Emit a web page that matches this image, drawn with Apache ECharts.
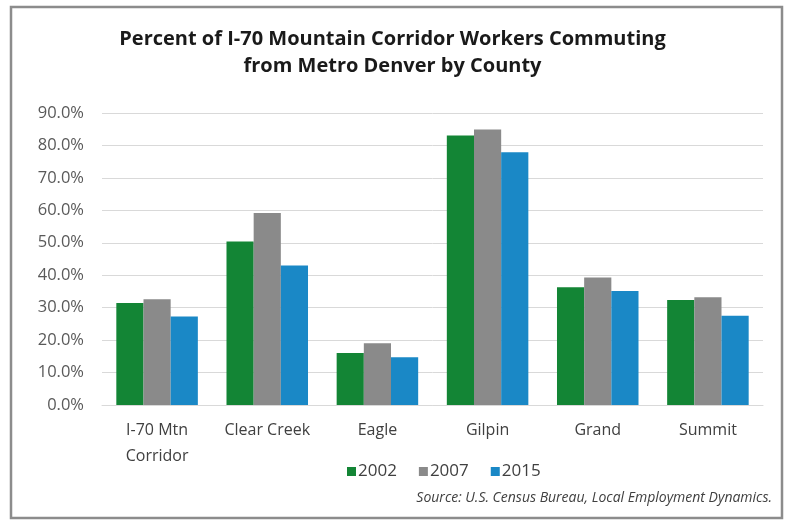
<!DOCTYPE html>
<html>
<head>
<meta charset="utf-8">
<script src="https://cdn.jsdelivr.net/npm/echarts@6/dist/echarts.min.js"></script>
<style>
  html, body { margin: 0; padding: 0; background: #fff; }
  #chart { width: 785px; height: 523px; }
</style>
</head>
<body>
<div id="chart"></div>
<script>
// Chart data
const counties = ['I-70 Mtn\nCorridor', 'Clear Creek', 'Eagle', 'Gilpin', 'Grand', 'Summit']
const years = ['2002', '2007', '2015']
const pct2002 = [31.4, 50.4, 16.0, 83.1, 36.3, 32.4]
const pct2007 = [32.6, 59.2, 19.0, 84.9, 39.3, 33.2]
const pct2015 = [27.3, 43.0, 14.7, 77.9, 35.1, 27.5]
const yTicks = [0, 10, 20, 30, 40, 50, 60, 70, 80, 90]

const colors = ['#138535', '#8a8a8a', '#1a88c6']
const font = 'Open Sans, sans-serif'

const chart = echarts.init(document.getElementById('chart'))

chart.setOption({
  animation: false,
  color: colors,
  title: [
    {
      text: 'Percent of I-70 Mountain Corridor Workers Commuting\nfrom Metro Denver by County',
      left: 'center',
      top: 21,
      textStyle: {
        fontFamily: font,
        fontSize: 20,
        fontWeight: 'bold',
        color: '#1a1a1a',
        lineHeight: 27
      }
    },
    {
      text: 'Source: U.S. Census Bureau, Local Employment Dynamics.',
      right: 8,
      top: 486,
      textStyle: {
        fontFamily: font,
        fontSize: 14,
        fontStyle: 'italic',
        fontWeight: 'normal',
        color: '#404040'
      }
    }
  ],
  graphic: [{
    type: 'rect',
    shape: { x: 11, y: 7, width: 771, height: 511 },
    style: { fill: 'none', stroke: '#8c8c8c', lineWidth: 2.5 }
  }],
  legend: {
    data: years,
    left: 342,
    top: 458,
    itemWidth: 9,
    itemHeight: 9,
    itemGap: 22,
    icon: 'rect',
    textStyle: { fontFamily: font, fontSize: 17, color: '#404040', padding: [0, 0, 0, -3] }
  },
  grid: {
    left: 102,
    right: 22,
    top: 113,
    height: 292
  },
  xAxis: {
    type: 'category',
    data: counties,
    axisTick: { show: false },
    axisLine: { lineStyle: { color: '#d9d9d9' } },
    axisLabel: {
      interval: 0,
      fontFamily: font,
      fontSize: 16,
      color: '#404040',
      margin: 12,
      lineHeight: 26,
      verticalAlign: 'top'
    }
  },
  yAxis: {
    type: 'value',
    min: 0,
    max: 90,
    interval: 10,
    axisLabel: {
      fontFamily: font,
      fontSize: 16.5,
      color: '#595959',
      margin: 18,
      formatter: v => yTicks.includes(v) ? v.toFixed(1) + '%' : ''
    },
    splitLine: { lineStyle: { color: '#d9d9d9', width: 1 } },
    axisLine: { show: false },
    axisTick: { show: false }
  },
  series: [
    { name: years[0], type: 'bar', data: pct2002, barGap: '0%', barCategoryGap: '26%' },
    { name: years[1], type: 'bar', data: pct2007, barGap: '0%', barCategoryGap: '26%' },
    { name: years[2], type: 'bar', data: pct2015, barGap: '0%', barCategoryGap: '26%' }
  ]
})
</script>
</body>
</html>
